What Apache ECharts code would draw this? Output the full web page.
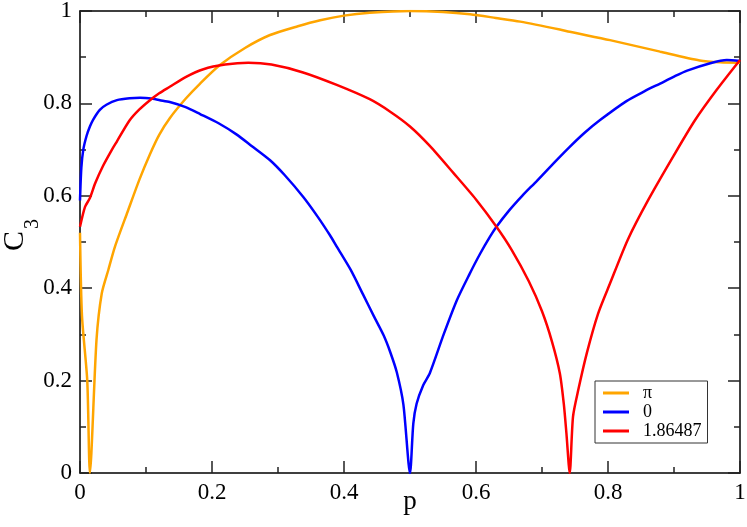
<!DOCTYPE html>
<html>
<head>
<meta charset="utf-8">
<script src="https://cdn.jsdelivr.net/npm/echarts@6/dist/echarts.min.js"></script>
<style>html,body{margin:0;padding:0;background:#fff}#c{width:747px;height:527px}</style>
</head>
<body>
<div id="c"></div>
<script>
const seriesNames = ['π', '0', '1.86487'];
const seriesColors = ['#FFA500', '#0000FF', '#FF0000'];
const yTitleMain = 'C';
const yTitleSub = '3';
const xTitle = 'p';

const pPi = [0, 0.003, 0.011, 0.015, 0.025, 0.033, 0.043, 0.053, 0.072, 0.09, 0.106, 0.12, 0.136, 0.16, 0.182, 0.212, 0.25, 0.288, 0.33, 0.364, 0.4, 0.439, 0.5, 0.55, 0.591, 0.63, 0.667, 0.727, 0.742, 0.803, 0.879, 0.939, 0.97, 1.0];
const cPi = [0.52, 0.34, 0.2, 0, 0.288, 0.389, 0.44, 0.49, 0.565, 0.635, 0.69, 0.732, 0.768, 0.81, 0.843, 0.883, 0.92, 0.948, 0.967, 0.98, 0.99, 0.996, 1.0, 0.998, 0.993, 0.985, 0.977, 0.96, 0.955, 0.937, 0.912, 0.893, 0.889, 0.888];

const pZero = [0, 0.002, 0.005, 0.01, 0.015, 0.02, 0.03, 0.04, 0.056, 0.075, 0.091, 0.11, 0.121, 0.136, 0.16, 0.182, 0.21, 0.237, 0.26, 0.288, 0.31, 0.338, 0.36, 0.379, 0.389, 0.41, 0.429, 0.445, 0.46, 0.47, 0.48, 0.49, 0.5, 0.505, 0.51, 0.52, 0.53, 0.551, 0.571, 0.59, 0.606, 0.621, 0.631, 0.65, 0.67, 0.692, 0.72, 0.742, 0.765, 0.788, 0.828, 0.855, 0.879, 0.9, 0.92, 0.955, 0.98, 1.0];
const cZero = [0.59, 0.66, 0.70, 0.73, 0.75, 0.765, 0.786, 0.797, 0.807, 0.811, 0.812, 0.81, 0.807, 0.803, 0.792, 0.777, 0.757, 0.733, 0.708, 0.677, 0.645, 0.598, 0.555, 0.514, 0.49, 0.44, 0.386, 0.34, 0.298, 0.262, 0.218, 0.148, 0, 0.107, 0.15, 0.19, 0.216, 0.3, 0.374, 0.43, 0.474, 0.511, 0.533, 0.568, 0.6, 0.632, 0.674, 0.706, 0.737, 0.764, 0.805, 0.826, 0.843, 0.858, 0.871, 0.887, 0.894, 0.892];

const pRed = [0, 0.0076, 0.015, 0.023, 0.035, 0.048, 0.056, 0.075, 0.09, 0.106, 0.12, 0.136, 0.16, 0.187, 0.22, 0.255, 0.29, 0.338, 0.389, 0.439, 0.47, 0.5, 0.53, 0.566, 0.6, 0.631, 0.654, 0.68, 0.7, 0.715, 0.727, 0.733, 0.737, 0.742, 0.747, 0.755, 0.768, 0.785, 0.803, 0.83, 0.861, 0.9, 0.932, 0.965, 1.0];
const cRed = [0.533, 0.576, 0.595, 0.627, 0.665, 0.699, 0.718, 0.763, 0.787, 0.807, 0.822, 0.836, 0.857, 0.874, 0.884, 0.888, 0.884, 0.867, 0.84, 0.809, 0.782, 0.75, 0.708, 0.649, 0.592, 0.533, 0.483, 0.415, 0.35, 0.285, 0.216, 0.15, 0.086, 0, 0.122, 0.18, 0.26, 0.345, 0.41, 0.505, 0.591, 0.688, 0.764, 0.83, 0.894];

const xTicks = [0, 0.2, 0.4, 0.6, 0.8, 1];
const yTicks = [0, 0.2, 0.4, 0.6, 0.8, 1];

const zip = (a, b) => a.map((v, i) => [v, b[i]]);
const FONT = "'Liberation Serif', 'Times New Roman', serif";

function axisBase(showLabel, pos) {
  return {
    type: 'value', min: 0, max: 1, interval: 0.2, position: pos,
    nameMoveOverlap: false,
    axisLine: { show: true, onZero: false, lineStyle: { color: '#000', width: 1.5 } },
    axisTick: { show: true, inside: true, length: 12, lineStyle: { color: '#222', width: 1.5 } },
    minorTick: { show: true, splitNumber: 2, length: 6, lineStyle: { color: '#222', width: 1.5 } },
    splitLine: { show: false },
    minorSplitLine: { show: false },
    axisLabel: { show: showLabel, color: '#000', fontFamily: FONT, fontSize: 23, margin: 8 }
  };
}

const chart = echarts.init(document.getElementById('c'), null, { renderer: 'canvas' });
const xb = axisBase(true, 'bottom');
xb.name = xTitle;
xb.nameLocation = 'middle';
xb.nameGap = 15;
xb.nameTextStyle = { color: '#000', fontFamily: FONT, fontSize: 27, verticalAlign: 'top' };
const yl = axisBase(true, 'left');

chart.setOption({
  animation: false,
  backgroundColor: '#fff',
  grid: { left: 80, right: 7, top: 11, bottom: 54, containLabel: false, outerBoundsMode: 'none' },
  xAxis: [xb, axisBase(false, 'top')],
  yAxis: [yl, axisBase(false, 'right')],
  graphic: [
    { type: 'text', x: 15, y: 241, rotation: Math.PI / 2,
      style: { text: yTitleMain, fill: '#000', font: "30px 'Liberation Serif', serif", textAlign: 'center', textVerticalAlign: 'middle' } },
    { type: 'text', x: 33, y: 224, rotation: Math.PI / 2,
      style: { text: yTitleSub, fill: '#000', font: "20px 'Liberation Serif', serif", textAlign: 'center', textVerticalAlign: 'middle' } }
  ],
  legend: {
    show: true, orient: 'vertical', left: 595, top: 381,
    data: seriesNames,
    icon: 'rect',
    backgroundColor: '#fff', borderColor: '#333', borderWidth: 1,
    padding: [3, 6, 3, 8], itemWidth: 26, itemHeight: 3, itemGap: 1,
    textStyle: { fontFamily: FONT, fontSize: 18, color: '#000', lineHeight: 18, padding: [0, 0, 0, 9] }
  },
  series: [
    { name: seriesNames[0], type: 'line', data: zip(pPi, cPi) },
    { name: seriesNames[1], type: 'line', data: zip(pZero, cZero) },
    { name: seriesNames[2], type: 'line', data: zip(pRed, cRed) }
  ].map((s, i) => Object.assign(s, {
    showSymbol: false, symbol: 'none', clip: true, xAxisIndex: 0, yAxisIndex: 0,
    smooth: 0.25,
    color: seriesColors[i],
    lineStyle: { color: seriesColors[i], width: 2.5 }
  }))
});
</script>
</body>
</html>
